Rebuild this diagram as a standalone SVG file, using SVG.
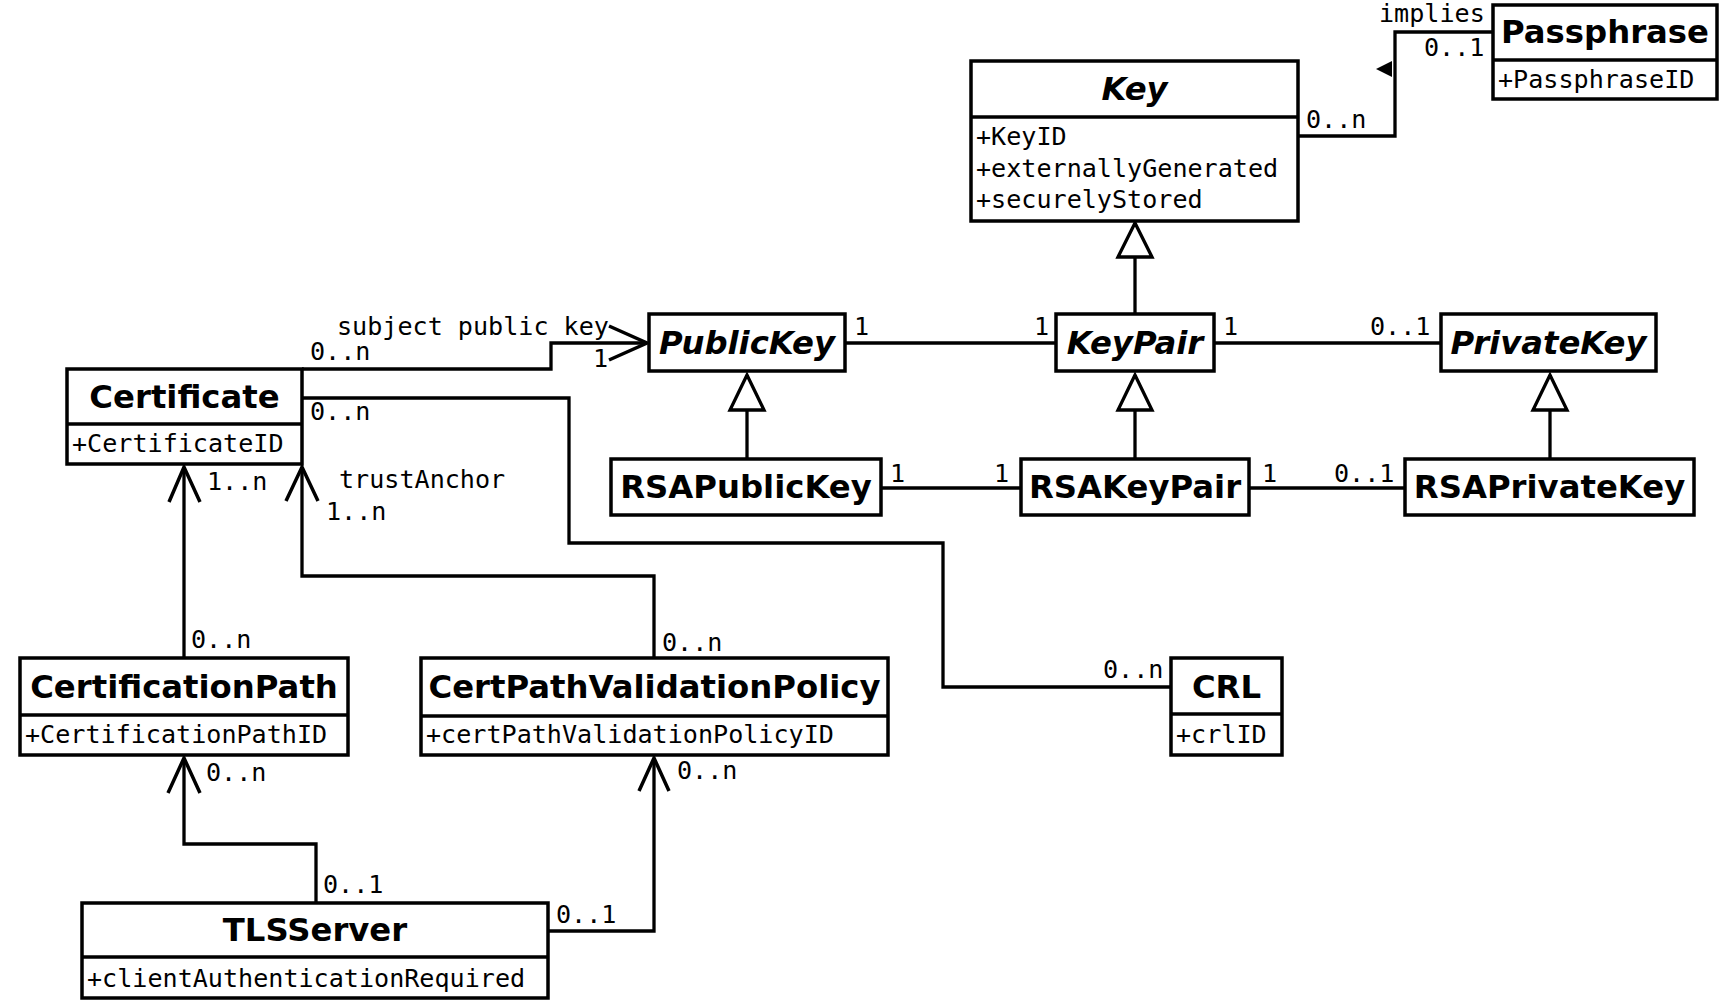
<svg xmlns="http://www.w3.org/2000/svg" width="1721" height="1000" viewBox="0 0 1721 1000">
<style>
.box{fill:#fff;stroke:#000;stroke-width:3.5}
.dv{stroke:#000;stroke-width:3.5}
.ln{fill:none;stroke:#000;stroke-width:3.3}
.ar{fill:none;stroke:#000;stroke-width:3.5}
.gen{fill:#fff;stroke:#000;stroke-width:3.3}
.t{font-family:"DejaVu Sans","Liberation Sans",sans-serif;font-weight:bold;font-size:32.3px;text-anchor:middle}
.i{font-style:italic}
.m{font-family:"DejaVu Sans Mono","Liberation Mono",monospace;font-size:25.1px}
</style>
<rect width="1721" height="1000" fill="#fff"/>
<g id="connectors">
<polyline class="ln" points="302,369 551,369 551,343 647,343"/>
<polyline class="ar" points="609,326 647,343 609,360"/>
<polyline class="ln" points="302,398 569,398 569,543 943,543 943,687 1171,687"/>
<line class="ln" x1="184" y1="658" x2="184" y2="467"/>
<polyline class="ar" points="169,502 184,467 200,502"/>
<polyline class="ln" points="654,658 654,576 302,576 302,467"/>
<polyline class="ar" points="286,501 302,467 318,501"/>
<polyline class="ln" points="316,903 316,844 184,844 184,758"/>
<polyline class="ar" points="168,793 184,758 200,793"/>
<polyline class="ln" points="548,931 654,931 654,758"/>
<polyline class="ar" points="639,791 654,758 669,791"/>
<polyline class="ln" points="1298,136 1395,136 1395,32 1493,32"/>
<polygon points="1376,69 1392,61 1392,77" fill="#000"/>
<line class="ln" x1="1135" y1="315" x2="1135" y2="257"/>
<polygon class="gen" points="1135,223 1118,257 1152,257"/>
<line class="ln" x1="747" y1="459" x2="747" y2="410"/>
<polygon class="gen" points="747,375 730,410 764,410"/>
<line class="ln" x1="1135" y1="459" x2="1135" y2="410"/>
<polygon class="gen" points="1135,375 1118,410 1152,410"/>
<line class="ln" x1="1550" y1="459" x2="1550" y2="410"/>
<polygon class="gen" points="1550,375 1533,410 1567,410"/>
<line class="ln" x1="845" y1="343" x2="1056" y2="343"/>
<line class="ln" x1="1214" y1="343" x2="1441" y2="343"/>
<line class="ln" x1="881" y1="488" x2="1021" y2="488"/>
<line class="ln" x1="1249" y1="488" x2="1405" y2="488"/>
<g class="m">
<text x="337" y="335">subject public key</text>
<text x="310" y="360">0..n</text>
<text x="593" y="367">1</text>
<text x="310" y="420">0..n</text>
<text x="1103" y="678">0..n</text>
<text x="207" y="490">1..n</text>
<text x="191" y="648">0..n</text>
<text x="339" y="488">trustAnchor</text>
<text x="326" y="520">1..n</text>
<text x="662" y="651">0..n</text>
<text x="206" y="781">0..n</text>
<text x="323" y="893">0..1</text>
<text x="677" y="779">0..n</text>
<text x="556" y="923">0..1</text>
<text x="1379" y="22">implies</text>
<text x="1424" y="56">0..1</text>
<text x="1306" y="128">0..n</text>
<text x="854" y="335">1</text>
<text x="1034" y="335">1</text>
<text x="1223" y="335">1</text>
<text x="1370" y="335">0..1</text>
<text x="890" y="482">1</text>
<text x="994" y="482">1</text>
<text x="1262" y="482">1</text>
<text x="1334" y="482">0..1</text>
</g>
</g>
<g id="Key">
<rect class="box" x="971" y="61" width="327" height="160"/>
<line class="dv" x1="971" y1="117" x2="1298" y2="117"/>
<text class="t i" x="1134.5" y="100">Key</text>
<text class="m" x="976" y="145">+KeyID</text>
<text class="m" x="976" y="177">+externallyGenerated</text>
<text class="m" x="976" y="208">+securelyStored</text>
</g>
<g id="Passphrase">
<rect class="box" x="1493" y="5" width="224" height="94"/>
<line class="dv" x1="1493" y1="60" x2="1717" y2="60"/>
<text class="t" x="1605" y="43">Passphrase</text>
<text class="m" x="1498" y="88">+PassphraseID</text>
</g>
<g id="PublicKey">
<rect class="box" x="649" y="314" width="196" height="57"/>
<text class="t i" x="747" y="354">PublicKey</text>
</g>
<g id="KeyPair">
<rect class="box" x="1056" y="314" width="158" height="57"/>
<text class="t i" x="1135" y="354">KeyPair</text>
</g>
<g id="PrivateKey">
<rect class="box" x="1441" y="314" width="215" height="57"/>
<text class="t i" x="1548.5" y="354">PrivateKey</text>
</g>
<g id="RSAPublicKey">
<rect class="box" x="611" y="459" width="270" height="56"/>
<text class="t" x="746" y="498">RSAPublicKey</text>
</g>
<g id="RSAKeyPair">
<rect class="box" x="1021" y="459" width="228" height="56"/>
<text class="t" x="1135" y="498">RSAKeyPair</text>
</g>
<g id="RSAPrivateKey">
<rect class="box" x="1405" y="459" width="289" height="56"/>
<text class="t" x="1549.5" y="498">RSAPrivateKey</text>
</g>
<g id="Certificate">
<rect class="box" x="67" y="369" width="235" height="95"/>
<line class="dv" x1="67" y1="424" x2="302" y2="424"/>
<text class="t" x="184.5" y="408">Certificate</text>
<text class="m" x="72" y="452">+CertificateID</text>
</g>
<g id="CertificationPath">
<rect class="box" x="20" y="658" width="328" height="97"/>
<line class="dv" x1="20" y1="715" x2="348" y2="715"/>
<text class="t" x="184" y="698">CertificationPath</text>
<text class="m" x="25" y="743">+CertificationPathID</text>
</g>
<g id="CertPathValidationPolicy">
<rect class="box" x="421" y="658" width="467" height="97"/>
<line class="dv" x1="421" y1="716" x2="888" y2="716"/>
<text class="t" x="654.5" y="698">CertPathValidationPolicy</text>
<text class="m" x="426" y="743">+certPathValidationPolicyID</text>
</g>
<g id="CRL">
<rect class="box" x="1171" y="658" width="111" height="97"/>
<line class="dv" x1="1171" y1="714" x2="1282" y2="714"/>
<text class="t" x="1226.5" y="698">CRL</text>
<text class="m" x="1176" y="743">+crlID</text>
</g>
<g id="TLSServer">
<rect class="box" x="82" y="903" width="466" height="95"/>
<line class="dv" x1="82" y1="957" x2="548" y2="957"/>
<text class="t" x="315" y="941">TLSServer</text>
<text class="m" x="87" y="987">+clientAuthenticationRequired</text>
</g>
</svg>
